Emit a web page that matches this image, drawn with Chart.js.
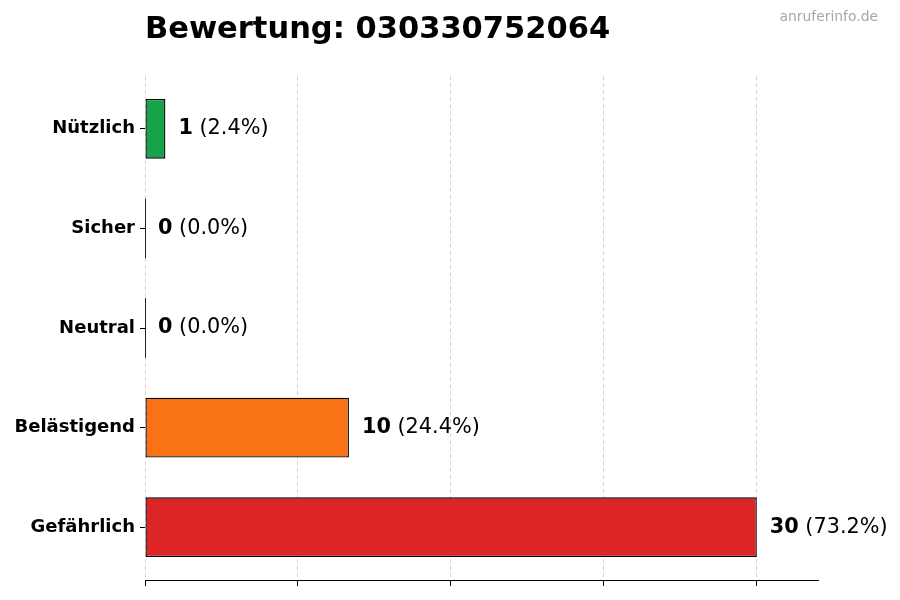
<!DOCTYPE html>
<html>
<head>
<meta charset="utf-8">
<title>Bewertung: 030330752064</title>
<script src="https://cdn.jsdelivr.net/npm/chart.js@4/dist/chart.umd.min.js"></script>
<style>
  body { margin: 0; background: #fff; }
  #wrap { width: 900px; height: 600px; }
</style>
</head>
<body>
<div id="wrap"><canvas id="bewertungChart" width="900" height="600"></canvas></div>
<script>
// Daten
const kategorien = ['Nützlich', 'Sicher', 'Neutral', 'Belästigend', 'Gefährlich'];
const anzahl = [1, 0, 0, 10, 30];
const farben = ['#16a34a', '#9ca3af', '#6b7280', '#f97316', '#dc2626'];
const xTicks = [0, 7.5, 15, 22.5, 30];
const xMax = 33;
const titel = 'Bewertung: 030330752064';
const quelle = 'anruferinfo.de';

const schrift = '"DejaVu Sans", sans-serif';
const gesamt = anzahl.reduce((a, b) => a + b, 0);

// Positionen der Kategorien (0..n-1) mit etwas Rand wie bei matplotlib
const yPunkte = anzahl.map((wert, i) => ({ x: wert, y: i }));

// Titel, Wasserzeichen und Werte neben den Balken
const beschriftung = {
  id: 'beschriftung',
  afterDatasetsDraw(chart) {
    const ctx = chart.ctx;
    const area = chart.chartArea;
    ctx.save();

    ctx.fillStyle = '#000';
    ctx.textBaseline = 'middle';
    ctx.textAlign = 'left';
    ctx.font = 'bold 30.5px ' + schrift;
    ctx.fillText(titel, area.left, 30);

    ctx.fillStyle = '#a6a6a6';
    ctx.textAlign = 'right';
    ctx.font = '13.9px ' + schrift;
    ctx.fillText(quelle, 878, 17);

    const meta = chart.getDatasetMeta(0);
    meta.data.forEach((bar, i) => {
      const wert = anzahl[i];
      // dunkle Kante bei 0-Balken
      if (wert === 0) {
        ctx.strokeStyle = '#222';
        ctx.lineWidth = 1;
        ctx.beginPath();
        ctx.moveTo(bar.base + 0.5, bar.y - bar.height / 2);
        ctx.lineTo(bar.base + 0.5, bar.y + bar.height / 2);
        ctx.stroke();
      }
      const prozent = gesamt ? (wert / gesamt * 100).toFixed(1) : '0.0';
      let x = bar.x + 13;
      ctx.fillStyle = '#000';
      ctx.textAlign = 'left';
      ctx.font = 'bold 20.8px ' + schrift;
      ctx.fillText(String(wert), x, bar.y);
      x += ctx.measureText(String(wert)).width;
      ctx.font = '20.8px ' + schrift;
      ctx.fillText(' (' + prozent + '%)', x, bar.y);
    });

    ctx.restore();
  }
};

const config = {
  type: 'bar',
  data: {
    datasets: [{
      data: yPunkte,
      backgroundColor: farben,
      borderColor: '#000',
      borderWidth: 1.3,
      borderSkipped: false,
      barPercentage: 0.6,
      categoryPercentage: 1.0
    }]
  },
  options: {
    indexAxis: 'y',
    responsive: false,
    animation: false,
    devicePixelRatio: 1,
    layout: { padding: { top: 76, right: 82, bottom: 0, left: 0 } },
    plugins: {
      legend: { display: false },
      tooltip: { enabled: false }
    },
    scales: {
      x: {
        min: 0,
        max: xMax,
        afterBuildTicks(scale) {
          scale.ticks = xTicks.map(v => ({ value: v }));
        },
        afterFit(scale) {
          scale.height = 20;
        },
        ticks: { display: false },
        grid: {
          color: '#d4d4d4',
          lineWidth: 1,
          drawTicks: true,
          tickLength: 6,
          tickColor: '#000',
          tickWidth: 1,
          tickBorderDash: []
        },
        border: { display: true, color: '#000', width: 1, dash: [4, 3] }
      },
      y: {
        type: 'linear',
        reverse: true,
        min: -0.53,
        max: kategorien.length - 1 + 0.53,
        offset: false,
        afterBuildTicks(scale) {
          scale.ticks = kategorien.map((k, i) => ({ value: i }));
        },
        afterFit(scale) {
          scale.width = 145;
        },
        ticks: {
          color: '#000',
          padding: 5,
          font: { family: schrift, size: 18, weight: 'bold' },
          callback: (v) => kategorien[v]
        },
        grid: {
          offset: false,
          drawOnChartArea: false,
          drawTicks: true,
          tickLength: 5,
          tickColor: '#000'
        },
        border: { display: false }
      }
    }
  },
  plugins: [beschriftung]
};

const bewertungChart = new Chart(document.getElementById('bewertungChart'), config);
</script>
</body>
</html>
